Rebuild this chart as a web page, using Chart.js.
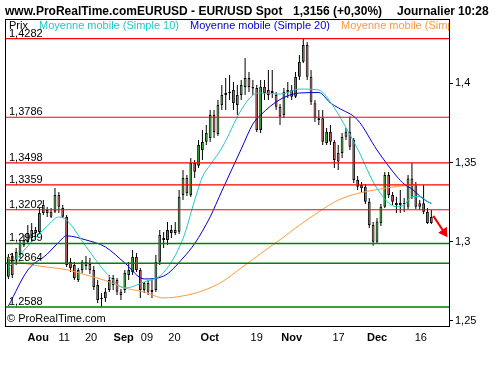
<!DOCTYPE html>
<html>
<head>
<meta charset="utf-8">
<style>
html, body { margin: 0; padding: 0; background: #fff; }
</style>
<script src="https://cdn.jsdelivr.net/npm/chart.js@4.4.0/dist/chart.umd.min.js"></script>
</head>
<body>
<canvas id="chart" width="500" height="370"></canvas>
<script>
// EUR/USD daily, 21 Jul -> 21 Dec (one entry per trading day)
const opens = [1.2779,1.2910,1.2885,1.2916,1.2979,1.2998,1.3024,1.3074,1.3061,1.3181,
  1.3181,1.3190,1.3190,1.3295,1.3213,1.3158,1.2874,1.2853,1.2759,1.2822,
  1.2872,1.2859,1.2822,1.2727,1.2638,1.2643,1.2695,1.2771,1.2759,1.2685,
  1.2695,1.2790,1.2809,1.2904,1.2822,1.2695,1.2740,1.2683,1.2695,1.2874,
  1.3011,1.3011,1.3074,1.3074,1.3063,1.3295,1.3402,1.3295,1.3497,1.3480,
  1.3579,1.3632,1.3655,1.3800,1.3680,1.3863,1.3926,1.3939,1.3958,1.3863,
  1.3926,1.3977,1.4034,1.3977,1.3971,1.3706,1.3979,1.3958,1.3952,1.3926,
  1.3852,1.3800,1.3958,1.3916,1.3916,1.4042,1.4136,1.4242,1.4042,1.3874,
  1.3779,1.3779,1.3623,1.3695,1.3630,1.3560,1.3560,1.3663,1.3695,1.3642,
  1.3390,1.3358,1.3347,1.3253,1.3106,1.3000,1.3116,1.3221,1.3421,1.3295,
  1.3244,1.3232,1.3244,1.3221,1.3400,1.3358,1.3243,1.3243,1.3190,1.3118];
const highs = [1.2923,1.2929,1.2960,1.3011,1.3042,1.3106,1.3118,1.3093,1.3213,1.3263,
  1.3219,1.3213,1.3339,1.3314,1.3232,1.3169,1.2897,1.2872,1.2834,1.2885,
  1.2910,1.2897,1.2847,1.2759,1.2676,1.2708,1.2790,1.2790,1.2771,1.2702,
  1.2822,1.2872,1.2948,1.2929,1.2834,1.2746,1.2759,1.2759,1.2916,1.3074,
  1.3061,1.3125,1.3106,1.3125,1.3327,1.3453,1.3421,1.3529,1.3516,1.3642,
  1.3706,1.3737,1.3832,1.3832,1.3895,1.3990,1.4034,1.4053,1.4009,1.3990,
  1.4021,1.4160,1.4071,1.4021,1.3990,1.4021,1.4021,1.4084,1.4084,1.3945,
  1.3870,1.3971,1.4009,1.3990,1.4071,1.4179,1.4280,1.4261,1.4084,1.3895,
  1.3832,1.3832,1.3718,1.3737,1.3642,1.3611,1.3687,1.3718,1.3790,1.3655,
  1.3415,1.3377,1.3364,1.3276,1.3125,1.3150,1.3238,1.3440,1.3440,1.3314,
  1.3284,1.3327,1.3276,1.3421,1.3497,1.3377,1.3263,1.3358,1.3213,1.3200];
const lows = [1.2765,1.2771,1.2853,1.2897,1.2967,1.2992,1.2998,1.3030,1.3049,1.3169,
  1.3156,1.3150,1.3181,1.3181,1.3150,1.2840,1.2809,1.2759,1.2746,1.2803,
  1.2822,1.2796,1.2695,1.2613,1.2590,1.2619,1.2683,1.2695,1.2664,1.2632,
  1.2676,1.2759,1.2790,1.2809,1.2645,1.2676,1.2664,1.2645,1.2683,1.2853,
  1.2960,1.2979,1.3024,1.3042,1.3049,1.3263,1.3289,1.3282,1.3402,1.3466,
  1.3516,1.3611,1.3630,1.3655,1.3668,1.3832,1.3832,1.3895,1.3832,1.3800,
  1.3895,1.3926,1.3945,1.3926,1.3693,1.3687,1.3895,1.3895,1.3907,1.3832,
  1.3737,1.3781,1.3907,1.3895,1.3907,1.4021,1.4128,1.4021,1.3863,1.3756,
  1.3737,1.3611,1.3611,1.3611,1.3466,1.3453,1.3529,1.3642,1.3579,1.3371,
  1.3327,1.3314,1.3238,1.3087,1.2975,1.2992,1.3099,1.3213,1.3276,1.3232,
  1.3181,1.3181,1.3188,1.3207,1.3270,1.3207,1.3200,1.3175,1.3112,1.3112];
const closes = [1.2906,1.2790,1.2937,1.2992,1.3011,1.3055,1.3074,1.3055,1.3181,1.3232,
  1.3200,1.3158,1.3295,1.3221,1.3158,1.2853,1.2832,1.2769,1.2822,1.2874,
  1.2847,1.2822,1.2714,1.2632,1.2645,1.2685,1.2759,1.2727,1.2685,1.2664,
  1.2803,1.2822,1.2904,1.2822,1.2695,1.2740,1.2685,1.2695,1.2874,1.3042,
  1.3024,1.3074,1.3055,1.3055,1.3284,1.3402,1.3306,1.3497,1.3442,1.3611,
  1.3630,1.3687,1.3800,1.3693,1.3863,1.3926,1.3939,1.3947,1.3876,1.3926,
  1.3990,1.4034,1.3977,1.3967,1.3706,1.3979,1.3939,1.3926,1.3939,1.3852,
  1.3790,1.3947,1.3945,1.3958,1.4042,1.4136,1.4242,1.4042,1.3884,1.3779,
  1.3769,1.3632,1.3695,1.3632,1.3516,1.3506,1.3663,1.3695,1.3600,1.3390,
  1.3347,1.3337,1.3253,1.3106,1.3000,1.3127,1.3221,1.3421,1.3295,1.3253,
  1.3232,1.3244,1.3238,1.3400,1.3284,1.3221,1.3221,1.3190,1.3118,1.3156];

// moving averages at these bar positions
const ma10At = [0,5,10,13,15,20,25,30,35,40,45,48,50,52,55,60,63,65,70,75,80,83,85,90,95,100,102,104,106,108,109];
const ma10 = [1.2834,1.2973,1.3099,1.3156,1.3137,1.2969,1.2809,1.2708,1.2746,1.2806,1.3020,1.3262,1.3409,1.3485,1.3592,1.3832,1.3926,1.3939,1.3932,1.3964,1.3958,1.3882,1.3806,1.3585,1.3336,1.3221,1.3232,1.3285,1.3285,1.3254,1.3242];
const ma20At = [0,5,10,13,15,20,25,30,35,40,45,48,50,52,55,60,63,65,70,75,80,83,85,90,95,100,102,104,106,108,109];
const ma20 = [1.2594,1.2821,1.2922,1.2998,1.3037,1.3011,1.2967,1.2866,1.2765,1.2783,1.2897,1.2988,1.3067,1.3157,1.3320,1.3585,1.3743,1.3800,1.3898,1.3939,1.3942,1.3876,1.3846,1.3769,1.3579,1.3415,1.3364,1.3333,1.3289,1.3253,1.3243];
const ma100At = [-0.6,5,10,15,20,25,30,35,40,45,50,55,60,65,70,75,80,85,90,95,100,104,105.3];
const ma100 = [1.2901,1.2859,1.2840,1.2824,1.2790,1.2755,1.2708,1.2683,1.2645,1.2658,1.2690,1.2746,1.2835,1.2925,1.3013,1.3104,1.3189,1.3263,1.3305,1.3329,1.3349,1.3356,1.3358];

const redLevels = [1.4282, 1.3786, 1.3498, 1.3359, 1.3202];
const greenLevels = [1.2989, 1.2864, 1.2588];

const yTicks = [1.25, 1.3, 1.35, 1.4];
const yTickLabels = ['1,25', '1,3', '1,35', '1,4'];
const xTickAt = [7.7, 14.4, 21.3, 29.7, 35.7, 42.8, 51.9, 64.0, 73.0, 85.1, 95.0, 106.3];
const xTickLabels = ['Aou', '11', '20', 'Sep', '09', '20', 'Oct', '19', 'Nov', '17', 'Dec', '16'];

const legendNames = ['Moyenne mobile (Simple 10)', 'Moyenne mobile (Simple 20)', 'Moyenne mobile (Simple 100)'];
const lastQuote = '1,3156 (+0,30%)';

const xMin = -0.62, xMax = 113.55;
const FONT = '"Liberation Sans", Arial, sans-serif';
const upColor = '#3cc43c', downColor = '#e06a6a';
const maColors = ['#22c8c8', '#0000cc', '#ff9a3c'];

const pts = (xs, ys) => xs.map((x, i) => ({x: x, y: ys[i]}));
const levelSet = (v, color, w) => ({
  type: 'line', data: [{x: xMin, y: v}, {x: xMax, y: v}],
  borderColor: color, borderWidth: w, pointRadius: 0, order: 0
});
const maSet = (xs, ys, color) => ({
  type: 'line', data: pts(xs, ys), borderColor: color, borderWidth: 1,
  pointRadius: 0, cubicInterpolationMode: 'monotone', order: 1
});

const overlay = {
  id: 'overlay',
  afterDatasetsDraw(chart) {
    const {ctx, chartArea: a, scales: {y}} = chart;
    ctx.save();
    ctx.beginPath();
    ctx.rect(a.left, a.top, a.right - a.left, a.bottom - a.top);
    ctx.clip();
    ctx.font = '11px ' + FONT;
    ctx.fillStyle = '#000';
    redLevels.concat(greenLevels).forEach(v => {
      ctx.fillText(v.toFixed(4).replace('.', ','), a.left + 3, Math.round(y.getPixelForValue(v)) - 2);
    });
    ctx.fillText('\u00a9 ProRealTime.com', a.left + 1, a.bottom - 4);
    ctx.fillText('Prix', a.left + 3, a.top + 8.5);
    [39, 190, 341].forEach((x, i) => {
      ctx.fillStyle = maColors[i];
      ctx.fillText(legendNames[i], x, a.top + 8.5);
    });
    ctx.restore();

    ctx.save();
    ctx.strokeStyle = '#000';
    ctx.lineWidth = 1;
    ctx.strokeRect(a.left - 0.5, a.top - 0.5, a.right - a.left + 1, a.bottom - a.top + 1);
    ctx.font = 'bold 12px ' + FONT;
    ctx.fillStyle = '#000';
    ctx.fillText('www.ProRealTime.comEURUSD - EUR/USD Spot', 5, 15);
    ctx.fillText(lastQuote, 293, 15);
    ctx.fillText('Journalier', 397, 15);
    ctx.fillText('10:28', 458, 15);
    ctx.restore();
  }
};

new Chart(document.getElementById('chart'), {
  type: 'bar',
  data: {
    datasets: [
      {
        type: 'line',
        data: [{x: 109.5, y: 1.3163}, {x: 112.3, y: 1.3060}],
        borderColor: '#ee0000', borderWidth: 2,
        pointRadius: [0, 4], pointStyle: 'triangle', rotation: 146,
        pointBackgroundColor: '#ee0000', pointBorderColor: '#ee0000',
        order: 0
      },
      ...redLevels.map(v => levelSet(v, '#ff0000', 1.2)),
      ...greenLevels.map(v => levelSet(v, '#008000', 1.6)),
      maSet(ma10At, ma10, maColors[0]),
      maSet(ma20At, ma20, maColors[1]),
      maSet(ma100At, ma100, maColors[2]),
      {
        data: opens.map((o, i) => ({x: i, y: [o, closes[i]]})),
        backgroundColor: opens.map((o, i) => closes[i] >= o ? upColor : downColor),
        borderColor: '#000', borderWidth: 1, borderSkipped: false,
        grouped: false, maxBarThickness: 4, order: 2
      },
      {
        data: lows.map((l, i) => ({x: i, y: [l, highs[i]]})),
        backgroundColor: '#000', borderWidth: 0,
        grouped: false, maxBarThickness: 1, order: 3
      }
    ]
  },
  options: {
    responsive: false,
    animation: false,
    events: [],
    layout: {padding: {top: 20, left: 4, right: 0, bottom: 0}},
    plugins: {legend: {display: false}, tooltip: {enabled: false}},
    scales: {
      x: {
        type: 'linear', min: xMin, max: xMax, offset: false,
        afterBuildTicks: s => { s.ticks = xTickAt.map(v => ({value: v})); },
        afterFit: s => { s.height = 44; },
        grid: {drawOnChartArea: false, drawTicks: false},
        border: {display: true, color: '#000'},
        ticks: {
          autoSkip: false, maxRotation: 0, padding: 5, color: '#000',
          font: c => ({family: FONT, size: 11, weight: isNaN(xTickLabels[c.index]) ? 'bold' : 'normal'}),
          callback: (v, i) => xTickLabels[i]
        }
      },
      y: {
        position: 'right', min: 1.2468, max: 1.44,
        afterBuildTicks: s => { s.ticks = yTicks.map(v => ({value: v})); },
        afterFit: s => { s.width = 51; },
        grid: {drawOnChartArea: false, drawTicks: true, tickLength: 4, color: '#000'},
        border: {display: true, color: '#000'},
        ticks: {
          padding: 2, color: '#000', font: {family: FONT, size: 11},
          callback: (v, i) => yTickLabels[i]
        }
      }
    }
  },
  plugins: [overlay]
});
</script>
</body>
</html>
